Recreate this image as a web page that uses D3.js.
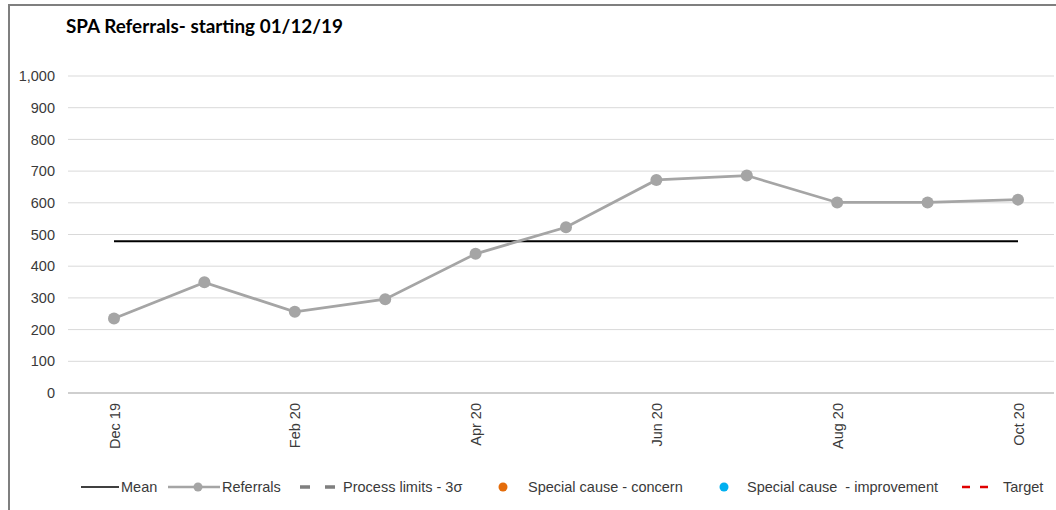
<!DOCTYPE html>
<html>
<head>
<meta charset="utf-8">
<script src="https://cdn.jsdelivr.net/npm/d3@7"></script>
<style>
  html, body { margin: 0; padding: 0; background: #fff; }
  svg { display: block; }
  text { font-family: "Liberation Sans", Arial, sans-serif; fill: #3a3a3a; }
</style>
</head>
<body>
<svg id="chart" width="1056" height="510"></svg>
<script>
// Monthly SPA referral counts, Dec 2019 – Oct 2020
const months = ["Dec 19", "Jan 20", "Feb 20", "Mar 20", "Apr 20", "May 20",
                "Jun 20", "Jul 20", "Aug 20", "Sep 20", "Oct 20"];
const referrals = [235, 349, 256, 296, 439, 523, 672, 686, 601, 601, 610];
const meanValue = [479];
const yTicks = [0, 100, 200, 300, 400, 500, 600, 700, 800, 900, 1000];
const xTickLabels = ["Dec 19", "Feb 20", "Apr 20", "Jun 20", "Aug 20", "Oct 20"];
const legendItems = ["Mean", "Referrals", "Process limits - 3σ",
                     "Special cause - concern", "Special cause  - improvement", "Target"];

const svg = d3.select("#chart");
const labelFont = "'Liberation Sans', Arial, sans-serif";
const labelSize = "14.5px";
const labelColor = "#3a3a3a";

// outer frame
svg.append("path")
  .attr("d", "M9,510 V5 H1056")
  .attr("fill", "none")
  .attr("stroke", "#7f7f7f")
  .attr("stroke-width", 2);

// title
svg.append("text")
  .attr("x", 66).attr("y", 33)
  .attr("textLength", 277)
  .attr("lengthAdjust", "spacingAndGlyphs")
  .style("font-family", "Lato, 'Open Sans', sans-serif")
  .style("font-weight", "bold")
  .style("font-size", "18px")
  .style("fill", "#000")
  .text("SPA Referrals- starting 01/12/19");

const x = d3.scalePoint().domain(months).range([114, 1018]);
const y = d3.scaleLinear().domain([0, 1000]).range([393, 76]);

// gridlines
svg.append("g")
  .selectAll("line")
  .data(yTicks.filter(d => d > 0))
  .join("line")
  .attr("x1", 68).attr("x2", 1054)
  .attr("y1", d => y(d)).attr("y2", d => y(d))
  .attr("stroke", "#d9d9d9").attr("stroke-width", 1);

// y axis labels
const yAxis = d3.axisLeft(y).tickValues(yTicks).tickFormat(d3.format(",")).tickSize(0).tickPadding(0);
const yg = svg.append("g").attr("transform", "translate(55,0)").call(yAxis);
yg.select(".domain").remove();
yg.selectAll("text")
  .style("font-family", labelFont)
  .style("font-size", labelSize)
  .attr("fill", labelColor);

// x axis baseline
svg.append("line")
  .attr("x1", 68).attr("x2", 1054)
  .attr("y1", y(0)).attr("y2", y(0))
  .attr("stroke", "#bfbfbf").attr("stroke-width", 1.3);

// x axis labels (rotated)
const xAxis = d3.axisBottom(x).tickValues(xTickLabels).tickSize(0).tickPadding(0);
const xg = svg.append("g").attr("transform", `translate(0,${y(0)})`).call(xAxis);
xg.select(".domain").remove();
xg.selectAll("text")
  .attr("transform", "rotate(-90)")
  .attr("x", -10)
  .attr("y", 0)
  .attr("dy", "0.35em")
  .attr("text-anchor", "end")
  .style("font-family", labelFont)
  .style("font-size", labelSize)
  .attr("fill", labelColor);

// mean line
svg.append("line")
  .attr("x1", x(months[0])).attr("x2", x(months[months.length - 1]))
  .attr("y1", y(meanValue[0])).attr("y2", y(meanValue[0]))
  .attr("stroke", "#000").attr("stroke-width", 2);

// referrals series
const line = d3.line().x((d, i) => x(months[i])).y(d => y(d));
svg.append("path")
  .datum(referrals)
  .attr("d", line)
  .attr("fill", "none")
  .attr("stroke", "#a5a5a5")
  .attr("stroke-width", 2.75);

svg.append("g")
  .selectAll("circle")
  .data(referrals)
  .join("circle")
  .attr("cx", (d, i) => x(months[i]))
  .attr("cy", d => y(d))
  .attr("r", 6)
  .attr("fill", "#a5a5a5");

// legend
const ly = 487;
const lg = svg.append("g").style("font-family", labelFont).style("font-size", labelSize);
const ltext = (xPos, t) => lg.append("text").attr("x", xPos).attr("y", ly).attr("dy", "0.35em").attr("fill", labelColor).text(t);

// Mean
lg.append("line").attr("x1", 81).attr("x2", 119).attr("y1", ly).attr("y2", ly).attr("stroke", "#000").attr("stroke-width", 1.5);
ltext(121, legendItems[0]);
// Referrals
lg.append("line").attr("x1", 168).attr("x2", 220).attr("y1", ly).attr("y2", ly).attr("stroke", "#a5a5a5").attr("stroke-width", 2.5);
lg.append("circle").attr("cx", 198).attr("cy", ly).attr("r", 4.5).attr("fill", "#a5a5a5");
ltext(222, legendItems[1]);
// Process limits
lg.append("line").attr("x1", 300).attr("x2", 338).attr("y1", ly).attr("y2", ly)
  .attr("stroke", "#7f7f7f").attr("stroke-width", 3.5).attr("stroke-dasharray", "10,15");
ltext(343, legendItems[2]);
// Special cause - concern
lg.append("circle").attr("cx", 503).attr("cy", ly).attr("r", 4.5).attr("fill", "#e46c0a");
ltext(528, legendItems[3]);
// Special cause - improvement
lg.append("circle").attr("cx", 724).attr("cy", ly).attr("r", 4.5).attr("fill", "#00b0f0");
ltext(747, legendItems[4]).style("white-space", "pre");
// Target
lg.append("line").attr("x1", 962).attr("x2", 988).attr("y1", ly).attr("y2", ly)
  .attr("stroke", "#e00000").attr("stroke-width", 2.5).attr("stroke-dasharray", "8,10");
ltext(1003, legendItems[5]);
</script>
</body>
</html>
